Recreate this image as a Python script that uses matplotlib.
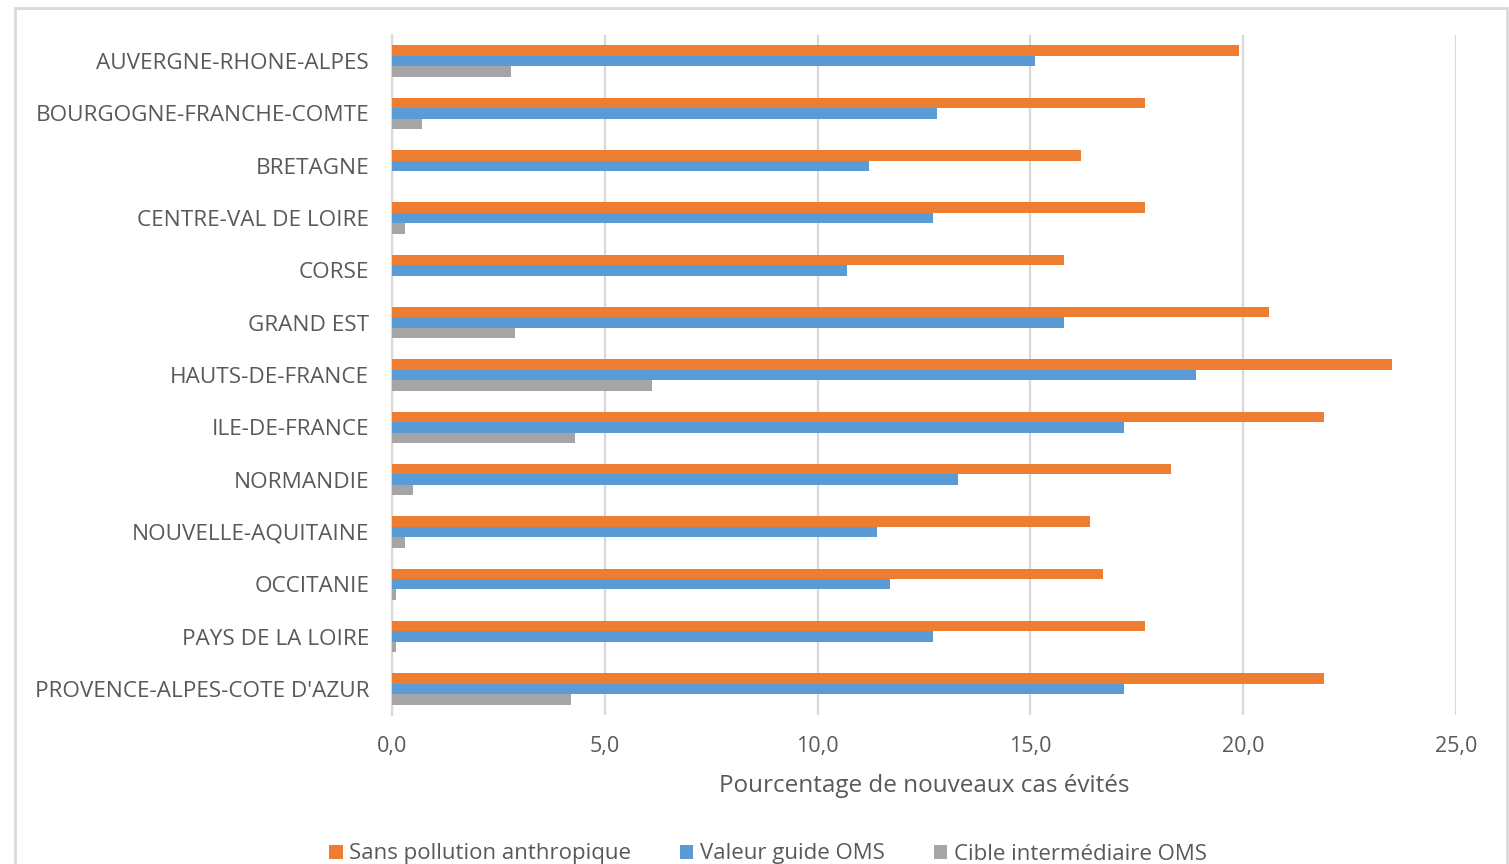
import numpy as np
import matplotlib.pyplot as plt
from matplotlib.patches import Rectangle

regions = ["AUVERGNE-RHONE-ALPES", "BOURGOGNE-FRANCHE-COMTE", "BRETAGNE",
           "CENTRE-VAL DE LOIRE", "CORSE", "GRAND EST", "HAUTS-DE-FRANCE",
           "ILE-DE-FRANCE", "NORMANDIE", "NOUVELLE-AQUITAINE", "OCCITANIE",
           "PAYS DE LA LOIRE", "PROVENCE-ALPES-COTE D'AZUR"]
sans_pollution = [19.9, 17.7, 16.2, 17.7, 15.8, 20.6, 23.5, 21.9, 18.3, 16.4, 16.7, 17.7, 21.9]
valeur_guide = [15.1, 12.8, 11.2, 12.7, 10.7, 15.8, 18.9, 17.2, 13.3, 11.4, 11.7, 12.7, 17.2]
cible_inter = [2.8, 0.7, 0.0, 0.3, 0.0, 2.9, 6.1, 4.3, 0.5, 0.3, 0.1, 0.1, 4.2]
series_names = ["Sans pollution anthropique", "Valeur guide OMS", "Cible intermédiaire OMS"]
x_ticks = [0, 5, 10, 15, 20, 25]

colors = ["#ed7d31", "#5b9bd5", "#a5a5a5"]
text_col = "#595959"
grid_col = "#d9d9d9"

plt.rcParams['font.family'] = ['Open Sans', 'DejaVu Sans']

fig = plt.figure(figsize=(15.09, 8.64), dpi=100)
ax = fig.add_axes([392 / 1509, 1 - 715 / 864, (1456 - 392) / 1509, (715 - 35) / 864])

y = np.arange(len(regions))
h = 0.2
for i, (vals, name) in enumerate(zip([sans_pollution, valeur_guide, cible_inter], series_names)):
    ax.barh(y + (i - 1) * h, vals, height=h, color=colors[i], label=name, zorder=3)

ax.set_ylim(len(regions) - 0.5, -0.5)
ax.set_xlim(0, 25)
ax.set_yticks(y)
ax.set_yticklabels(regions, fontsize=16.2, color=text_col)
ax.set_xticks(x_ticks)
ax.set_xticklabels([f"{t:.1f}".replace(".", ",") for t in x_ticks], fontsize=15.5, color=text_col)
ax.tick_params(length=0, pad=16.5, axis='y')
ax.tick_params(length=0, pad=15, axis='x')
ax.grid(axis='x', color=grid_col, linewidth=1.6, zorder=0)
for s in ['top', 'right', 'bottom']:
    ax.spines[s].set_visible(False)
ax.spines['left'].set_color(grid_col)
ax.spines['left'].set_linewidth(1.6)
ax.set_xlabel("Pourcentage de nouveaux cas évités", fontsize=17.5, color=text_col, labelpad=12)

# cadre du graphique
fig.patches.append(Rectangle((15 / 1509, -0.1), (1507 - 15) / 1509, 1.1 - 8 / 864,
                             transform=fig.transFigure, fill=False,
                             edgecolor=grid_col, linewidth=2))

fig.legend(loc='center', bbox_to_anchor=(768 / 1509, 1 - 854 / 864), ncol=3,
           frameon=False, fontsize=16, labelcolor=text_col, handlelength=0.6,
           handleheight=0.6, handletextpad=0.3, columnspacing=2.2)

fig.savefig("out.png", dpi=100)
